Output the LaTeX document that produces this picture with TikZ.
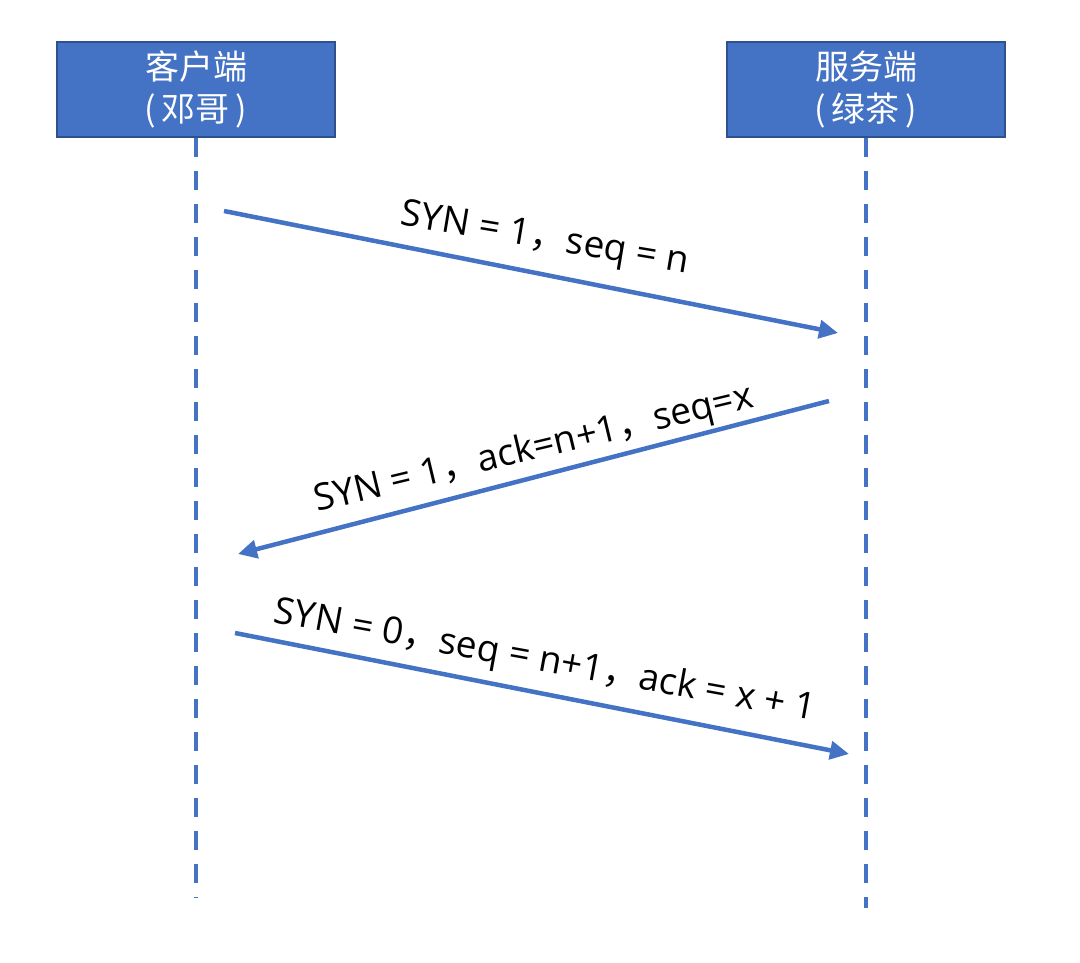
\documentclass[tikz,border=0pt]{standalone}
\usepackage{fontspec}
\setmainfont{Noto Sans CJK SC}
\newfontfamily\labfont{Open Sans}
\newfontfamily\cjkfont{Noto Sans CJK SC}
\newcommand{\fwc}{{\cjkfont ，}}
\usetikzlibrary{arrows.meta}
\definecolor{boxblue}{HTML}{4472C4}
\definecolor{boxedge}{HTML}{2F528F}
\begin{document}
\begin{tikzpicture}[x=1pt,y=-1pt,
  actor/.style={draw=boxedge,line width=1.5pt,fill=boxblue,text=white,minimum width=278pt,minimum height=95pt,align=center,font=\fontsize{34}{42}\selectfont,inner sep=0pt},
  lifeline/.style={boxblue,line width=3.5pt,dash pattern=on 19pt off 14pt},
  msg/.style={boxblue,line width=4.5pt,-{Triangle[length=19pt,width=18pt]}},
  lbl/.style={font=\labfont\fontsize{37}{40}\selectfont,text=black,inner sep=0pt,anchor=center}]
\useasboundingbox (0,0) rectangle (1080,963);
\node[actor] (client) at (196,89.5) {客户端\\(\,邓哥\,)};
\node[actor] (server) at (866,89.5) {服务端\\(\,绿茶\,)};
\coordinate (cend) at (196,897);
\coordinate (send) at (866,908);
\draw[lifeline] (client.south) -- (cend);
\draw[lifeline] (server.south) -- (send);
\coordinate (a1s) at (224,211);
\coordinate (a1e) at (838,333);
\coordinate (a2s) at (829,401);
\coordinate (a2e) at (238,554);
\coordinate (a3s) at (235,633);
\coordinate (a3e) at (849,754);
\draw[msg] (a1s) -- (a1e);
\draw[msg] (a2s) -- (a2e);
\draw[msg] (a3s) -- (a3e);
\node[lbl,rotate=-9.5] (l1) at (545,240) {SYN = 1\fwc seq = n};
\node[lbl,rotate=13.5] (l2) at (534,450) {SYN = 1\fwc ack=n+1\fwc seq=x};
\node[lbl,rotate=-10.3] (l3) at (545,662) {SYN = 0\fwc seq = n+1\fwc ack = x + 1};
\end{tikzpicture}
\end{document}
